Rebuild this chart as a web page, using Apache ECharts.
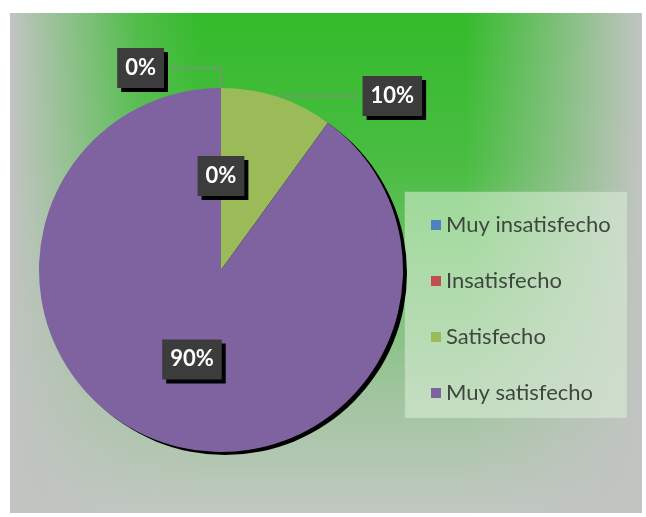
<!DOCTYPE html>
<html>
<head>
<meta charset="utf-8">
<script src="https://cdn.jsdelivr.net/npm/echarts@6/dist/echarts.min.js"></script>
<style>
  html, body { margin: 0; padding: 0; background: #ffffff; }
  #chart { width: 646px; height: 517px; }
</style>
</head>
<body>
<div id="chart"></div>
<script>
// Datos del gráfico
const categories = ["Muy insatisfecho", "Insatisfecho", "Satisfecho", "Muy satisfecho"];
const values = [0, 0, 10, 90];
const colors = ["#4f81bd", "#c0504d", "#9bbb59", "#7f63a1"];
// donde va cada etiqueta (fuera con línea guía o dentro de la porción)
const labelPlaces = ["outside", "inside", "outside", "inside"];
// largo de las líneas guía [tramo 1, tramo 2]
const guideLengths = [[20, 52], [0, 0], [1, 80], [0, 0]];

const chart = echarts.init(document.getElementById("chart"));

const total = values.reduce((a, b) => a + b, 0);

const labelBox = {
  color: "#ffffff",
  fontFamily: "Lato",
  fontWeight: "bold",
  fontSize: 22,
  lineHeight: 24,
  backgroundColor: "#3c3c3c",
  padding: [8, 8, 8, 8],
  shadowColor: "#000000",
  shadowOffsetX: 4,
  shadowOffsetY: 4,
  shadowBlur: 0,
  formatter: "{d}%",
};

const option = {
  animation: false,
  color: colors,
  graphic: [
    // fondo verde con degradado hacia gris en los bordes
    { type: "rect", z: -10, shape: { x: 10, y: 13, width: 632, height: 500 }, style: { fill: "#34bb2b" } },
    {
      type: "rect", z: -9, shape: { x: 10, y: 13, width: 632, height: 500 },
      style: {
        fill: new echarts.graphic.LinearGradient(0, 0, 0, 1, [
          { offset: 0, color: "rgba(194,200,194,0)" },
          { offset: 0.3, color: "rgba(194,200,194,0.15)" },
          { offset: 0.75, color: "rgba(194,200,194,0.75)" },
          { offset: 1, color: "rgba(194,200,194,1)" },
        ]),
      },
    },
    {
      type: "rect", z: -8, shape: { x: 10, y: 13, width: 632, height: 500 },
      style: {
        fill: new echarts.graphic.LinearGradient(0, 0, 1, 0, [
          { offset: 0, color: "rgba(194,196,194,1)" },
          { offset: 0.2, color: "rgba(194,196,194,0.2)" },
          { offset: 0.3, color: "rgba(194,196,194,0)" },
          { offset: 0.72, color: "rgba(194,196,194,0)" },
          { offset: 0.85, color: "rgba(194,196,194,0.45)" },
          { offset: 1, color: "rgba(194,196,194,1)" },
        ]),
      },
    },
    // caja de la leyenda
    {
      type: "rect", z: -5, shape: { x: 405, y: 192, width: 222, height: 226 },
      style: { fill: "rgba(220,240,216,0.55)", stroke: "rgba(190,210,190,0.8)", lineWidth: 1, lineDash: [1, 1] },
    },
  ],
  legend: {
    orient: "vertical",
    left: 426,
    top: 208,
    itemWidth: 10,
    itemHeight: 10,
    itemGap: 32,
    icon: "rect",
    data: categories,
    textStyle: {
      fontFamily: "Lato",
      fontSize: 22,
      lineHeight: 24,
      color: "#3e473e",
    },
  },
  series: [
    {
      // sombra negra detrás del pastel
      name: "sombra",
      type: "pie",
      silent: true,
      center: [225, 273],
      radius: 182,
      z: 1,
      label: { show: false },
      labelLine: { show: false },
      itemStyle: { color: "#000000" },
      data: [{ value: total, name: "_sombra" }],
    },
    {
      name: "Satisfacción",
      type: "pie",
      center: [221, 270],
      radius: 182,
      startAngle: 90,
      clockwise: true,
      z: 2,
      labelLine: {
        lineStyle: { color: "#7f917f", width: 1.5 },
      },
      data: categories.map((name, i) => ({
        name: name,
        value: values[i],
        label: Object.assign({}, labelBox, { position: labelPlaces[i] }),
        labelLine: {
          show: labelPlaces[i] === "outside",
          length: guideLengths[i][0],
          length2: guideLengths[i][1],
        },
      })),
    },
  ],
};

chart.setOption(option);
</script>
</body>
</html>
